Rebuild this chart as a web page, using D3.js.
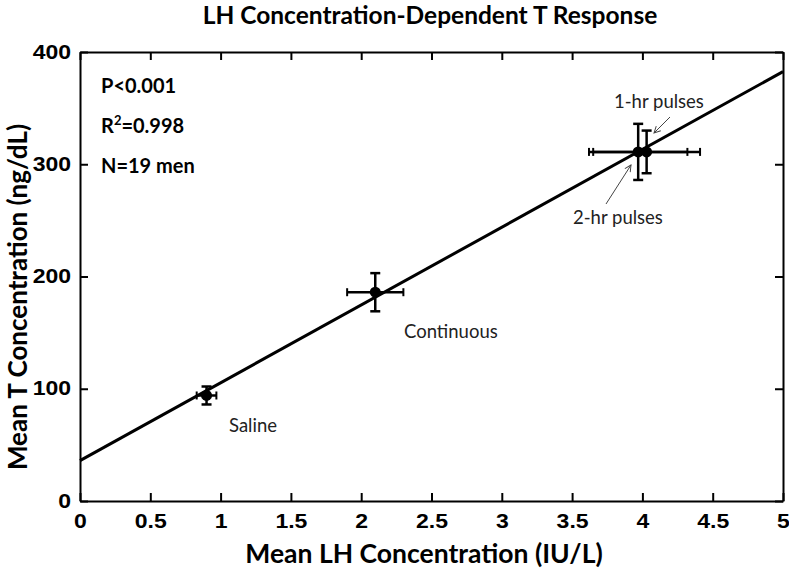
<!DOCTYPE html>
<html><head><meta charset="utf-8">
<script src="https://cdn.jsdelivr.net/npm/d3@7"></script>
<style>body{margin:0;background:#fff}svg{display:block}</style>
</head><body>
<script>
// Data
const groups = ["Saline", "Continuous", "2-hr pulses", "1-hr pulses"];
const lhMean = [0.90, 2.10, 3.97, 4.03];
const lhErr = [0.07, 0.20, 0.35, 0.38];
const tMean = [94, 186, 311, 311];
const tErr = [8, 17, 25, 19];
const fitIntercept = 36;
const fitSlope = 69.3;
const xTicks = [0, 0.5, 1, 1.5, 2, 2.5, 3, 3.5, 4, 4.5, 5];
const yTicks = [0, 100, 200, 300, 400];
const statLines = ["P<0.001", "R2=0.998", "N=19 men"];

const W = 789, H = 568;
const m = {l: 80, r: 6, t: 52, b: 67};
const svg = d3.select("body").append("svg").attr("width", W).attr("height", H);
const x = d3.scaleLinear().domain([0, 5]).range([m.l, W - m.r]);
const y = d3.scaleLinear().domain([0, 400]).range([H - m.b, m.t]);

const tickFont = "bold 19.5px Arial, 'Liberation Sans', sans-serif";
const calibri = "Lato, 'Open Sans', sans-serif";
const sx = 1.18;

// axes with inward ticks
const gx = svg.append("g").attr("transform", `translate(0,${y(0)})`)
  .call(d3.axisBottom(x).tickValues(xTicks).tickFormat(d3.format("")).tickSizeInner(-8).tickSizeOuter(0).tickPadding(13));
const gxTop = svg.append("g").attr("transform", `translate(0,${y(400)})`)
  .call(d3.axisTop(x).tickValues(xTicks).tickFormat("").tickSizeInner(-8).tickSizeOuter(0));
const gy = svg.append("g").attr("transform", `translate(${x(0)},0)`)
  .call(d3.axisLeft(y).tickValues(yTicks).tickSizeInner(-8).tickSizeOuter(0).tickPadding(9));
const gyR = svg.append("g").attr("transform", `translate(${x(5)},0)`)
  .call(d3.axisRight(y).tickValues(yTicks).tickFormat("").tickSizeInner(-8).tickSizeOuter(0));
[gx, gxTop, gy, gyR].forEach(g => {
  g.selectAll("path.domain").attr("stroke", "#000").attr("stroke-width", 2);
  g.selectAll(".tick line").attr("stroke", "#000").attr("stroke-width", 2);
  g.selectAll("text").style("font", tickFont).attr("fill", "#000");
});
gx.selectAll("text").attr("transform", `scale(${sx},1)`);
gy.selectAll("text").attr("x", -9 / sx).attr("transform", `scale(${sx},1)`);

// regression line
svg.append("line")
  .attr("x1", x(0)).attr("y1", y(fitIntercept))
  .attr("x2", x(5)).attr("y2", y(fitIntercept + fitSlope * 5))
  .attr("stroke", "#000").attr("stroke-width", 3);

// error bars
const pts = groups.map((g, i) => ({g, x: lhMean[i], xe: lhErr[i], y: tMean[i], ye: tErr[i]}));
const eb = svg.append("g").attr("stroke", "#000").attr("stroke-width", 2.5);
pts.forEach(p => {
  const cap = 5;
  eb.append("line").attr("x1", x(p.x - p.xe)).attr("x2", x(p.x + p.xe)).attr("y1", y(p.y)).attr("y2", y(p.y));
  eb.append("line").attr("x1", x(p.x - p.xe)).attr("x2", x(p.x - p.xe)).attr("y1", y(p.y) - cap + 1).attr("y2", y(p.y) + cap - 1).attr("stroke-width", 2);
  eb.append("line").attr("x1", x(p.x + p.xe)).attr("x2", x(p.x + p.xe)).attr("y1", y(p.y) - cap + 1).attr("y2", y(p.y) + cap - 1).attr("stroke-width", 2);
  eb.append("line").attr("x1", x(p.x)).attr("x2", x(p.x)).attr("y1", y(p.y - p.ye)).attr("y2", y(p.y + p.ye));
  eb.append("line").attr("x1", x(p.x) - cap).attr("x2", x(p.x) + cap).attr("y1", y(p.y + p.ye)).attr("y2", y(p.y + p.ye));
  eb.append("line").attr("x1", x(p.x) - cap).attr("x2", x(p.x) + cap).attr("y1", y(p.y - p.ye)).attr("y2", y(p.y - p.ye));
});
svg.append("g").selectAll("circle").data(pts).join("circle")
  .attr("cx", d => x(d.x)).attr("cy", d => y(d.y)).attr("r", 5.5).attr("fill", "#000");

// labels
const lab = svg.append("g").style("font-family", calibri).style("font-size", "18.5px").attr("fill", "#222");
lab.append("text").attr("x", 229).attr("y", 432).text("Saline");
lab.append("text").attr("x", 404).attr("y", 338).text("Continuous");
lab.append("text").attr("x", 614).attr("y", 108).text("1-hr pulses");
lab.append("text").attr("x", 573).attr("y", 224).text("2-hr pulses");

// annotation arrows
const defs = svg.append("defs");
defs.append("marker").attr("id", "ah").attr("viewBox", "0 0 10 10").attr("refX", 9).attr("refY", 5)
  .attr("markerWidth", 8).attr("markerHeight", 8).attr("orient", "auto")
  .append("path").attr("d", "M1,1 L9,5 L1,9").attr("fill", "none").attr("stroke", "#444").attr("stroke-width", 1.2);
svg.append("line").attr("x1", 670).attr("y1", 117).attr("x2", 654).attr("y2", 133)
  .attr("stroke", "#444").attr("stroke-width", 1).attr("marker-end", "url(#ah)");
svg.append("line").attr("x1", 606).attr("y1", 204).attr("x2", 631).attr("y2", 165)
  .attr("stroke", "#444").attr("stroke-width", 1).attr("marker-end", "url(#ah)");

// stats
const st = svg.append("g").style("font-family", calibri).style("font-size", "20px").style("font-weight", "bold").attr("fill", "#000");
statLines.forEach((s, i) => {
  const t = st.append("text").attr("x", 101).attr("y", 93 + i * 40);
  if (s.startsWith("R2")) {
    t.append("tspan").text("R");
    t.append("tspan").attr("dy", -8).style("font-size", "13px").text("2");
    t.append("tspan").attr("dy", 8).text(s.slice(2));
  } else t.text(s);
});

// titles
svg.append("text").attr("x", 430).attr("y", 24).attr("text-anchor", "middle")
  .style("font-family", calibri).style("font-weight", "bold").style("font-size", "24.5px").text("LH Concentration-Dependent T Response");
svg.append("text").attr("x", 424).attr("y", 563).attr("text-anchor", "middle")
  .style("font-family", calibri).style("font-weight", "bold").style("font-size", "26.5px").text("Mean LH Concentration (IU/L)");
svg.append("text").attr("transform", `translate(27,${297}) rotate(-90)`).attr("text-anchor", "middle")
  .style("font-family", calibri).style("font-weight", "bold").style("font-size", "26px").text("Mean T Concentration (ng/dL)");
</script>
</body></html>
